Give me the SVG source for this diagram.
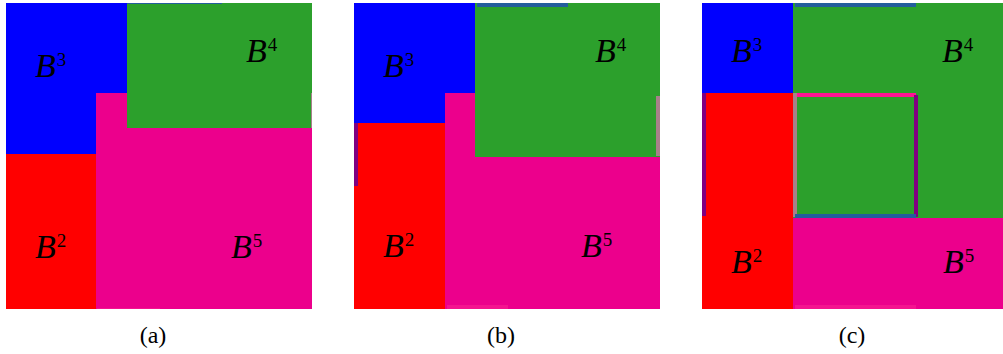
<svg xmlns="http://www.w3.org/2000/svg" width="1003" height="354" viewBox="0 0 1003 354">
<style>
.b{fill:#0000ff}.g{fill:#2ca02c}.p{fill:#ec008c}.r{fill:#ff0000}
.sb{fill:#235e9c}.sv{fill:#800080}.sr{fill:#a8808a}.sp{fill:#ff1493}.sl{fill:#f4148f}
.lbl{font-family:"Liberation Serif",serif;font-style:italic;font-size:34px;fill:#000}
.sup{font-style:normal;font-size:19px}
.cap{font-family:"Liberation Serif",serif;font-size:24px;fill:#000;text-anchor:middle}
</style>
<rect width="1003" height="354" fill="#ffffff"/>
<!-- Panel (a) -->
<g id="a-B3"><rect class="b" x="6" y="3" width="121" height="151"/></g>
<g id="a-B5"><rect class="p" x="96" y="93" width="216" height="216"/></g>
<g id="a-B4"><rect class="g" x="127" y="3" width="185" height="125"/></g>
<g id="a-B2"><rect class="r" x="6" y="154" width="90" height="155"/></g>
<g id="a-strips">
<rect class="sb" x="127" y="3" width="95" height="1"/>
<rect class="sr" x="311" y="93" width="1" height="35"/>
<rect class="sl" x="97" y="308" width="63" height="1"/>
</g>
<g id="a-labels">
<text class="lbl" x="35" y="77">B<tspan class="sup" dx="1" dy="-11">3</tspan></text>
<text class="lbl" x="246" y="62">B<tspan class="sup" dx="1" dy="-11">4</tspan></text>
<text class="lbl" x="35" y="258">B<tspan class="sup" dx="1" dy="-11">2</tspan></text>
<text class="lbl" x="231" y="258">B<tspan class="sup" dx="1" dy="-11">5</tspan></text>
</g>
<!-- Panel (b) -->
<g id="b-B3"><rect class="b" x="354" y="3" width="121" height="120"/></g>
<g id="b-B5"><rect class="p" x="445" y="93" width="215" height="216"/></g>
<g id="b-B4"><rect class="g" x="475" y="3" width="185" height="154"/></g>
<g id="b-B2"><rect class="r" x="354" y="123" width="91" height="186"/></g>
<g id="b-strips">
<rect class="sb" x="477" y="3" width="91" height="4"/>
<rect class="sv" x="354" y="123" width="4" height="63"/>
<rect class="sr" x="656" y="96" width="4" height="60"/>
<rect class="sl" x="447" y="305" width="61" height="4"/>
</g>
<g id="b-labels">
<text class="lbl" x="383" y="77">B<tspan class="sup" dx="1" dy="-11">3</tspan></text>
<text class="lbl" x="595" y="62">B<tspan class="sup" dx="1" dy="-11">4</tspan></text>
<text class="lbl" x="383" y="257">B<tspan class="sup" dx="1" dy="-11">2</tspan></text>
<text class="lbl" x="581" y="257">B<tspan class="sup" dx="1" dy="-11">5</tspan></text>
</g>
<!-- Panel (c) -->
<g id="c-B3"><rect class="b" x="702" y="3" width="91" height="90"/></g>
<g id="c-B4"><rect class="g" x="793" y="3" width="210" height="215"/></g>
<g id="c-B2"><rect class="r" x="702" y="93" width="91" height="216"/></g>
<g id="c-B5"><rect class="p" x="793" y="218" width="210" height="91"/></g>
<g id="c-strips">
<rect class="sb" x="795" y="3" width="121" height="4"/>
<rect class="sv" x="702" y="93" width="4" height="123"/>
<rect class="sp" x="795" y="93" width="121" height="4"/>
<rect class="sr" x="793" y="93" width="4" height="124"/>
<rect class="sv" x="914" y="95" width="4" height="122"/>
<rect class="sb" x="795" y="214" width="121" height="4"/>
<rect class="sl" x="795" y="305" width="121" height="4"/>
</g>
<g id="c-labels">
<text class="lbl" x="731" y="62">B<tspan class="sup" dx="1" dy="-11">3</tspan></text>
<text class="lbl" x="942" y="62">B<tspan class="sup" dx="1" dy="-11">4</tspan></text>
<text class="lbl" x="731" y="273">B<tspan class="sup" dx="1" dy="-11">2</tspan></text>
<text class="lbl" x="943" y="273">B<tspan class="sup" dx="1" dy="-11">5</tspan></text>
</g>
<g id="captions">
<text class="cap" x="153" y="343">(a)</text>
<text class="cap" x="501" y="343">(b)</text>
<text class="cap" x="852" y="343">(c)</text>
</g>
<g id="connectors"/>
</svg>
